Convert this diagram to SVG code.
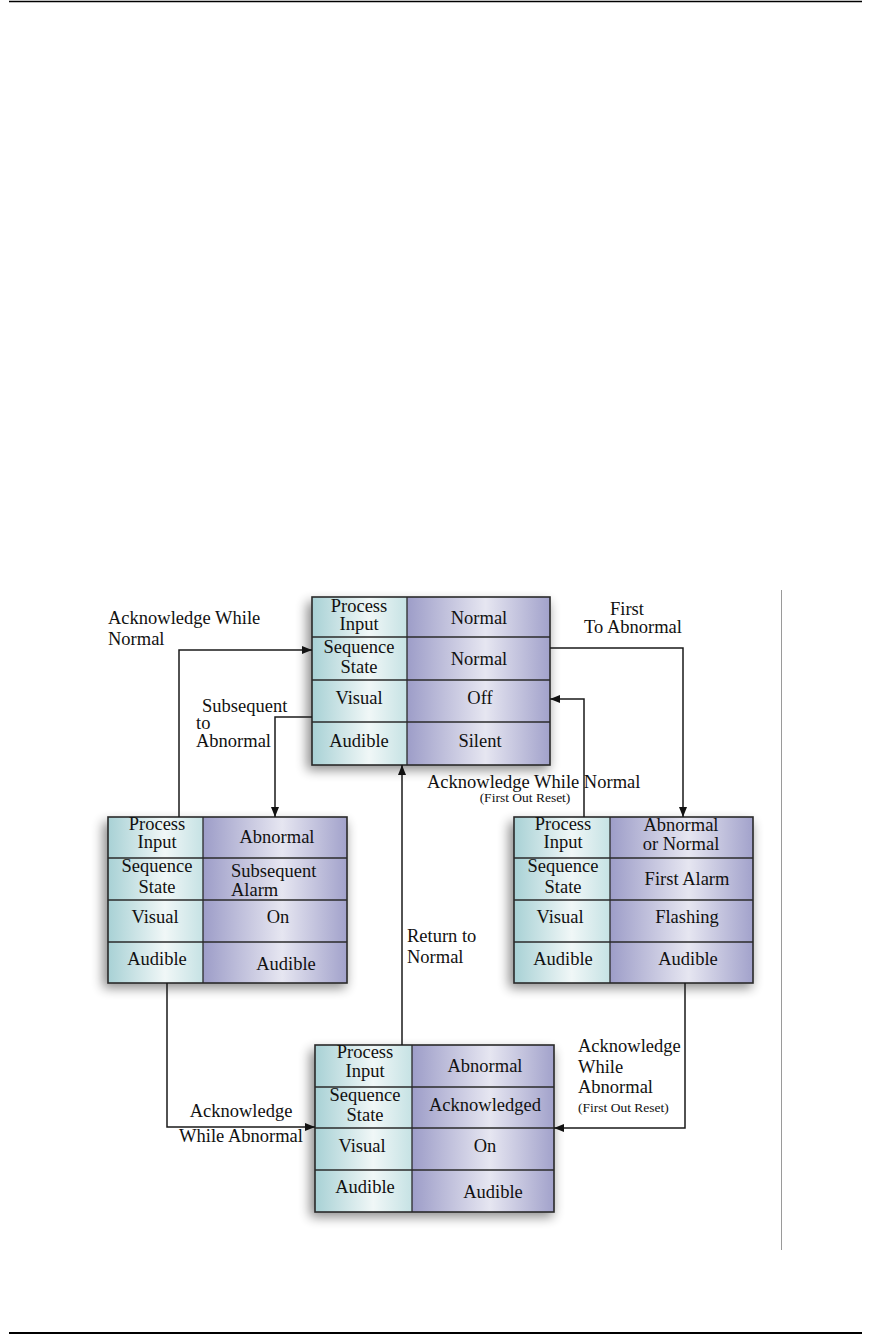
<svg xmlns="http://www.w3.org/2000/svg" width="870" height="1335" viewBox="0 0 870 1335">
<style>
  text { font-family: "Liberation Serif", "Times New Roman", serif; font-size: 18.5px; fill: #111; }
  .c { text-anchor: middle; }
  .sm { font-size: 13.5px; }
  .box { fill: none; stroke: #2a2a2a; stroke-width: 1.6; }
  .div { stroke: #2a2a2a; stroke-width: 1.3; }
  .conn { fill: none; stroke: #1a1a1a; stroke-width: 1.5; }
  .shadow { fill: #000; opacity: 0.45; }
</style>
<defs>
  <linearGradient id="gL" x1="0" y1="0" x2="1" y2="0">
    <stop offset="0" stop-color="#a8d1d5"/>
    <stop offset="0.6" stop-color="#f0f7f7"/>
    <stop offset="1" stop-color="#c6e2e4"/>
  </linearGradient>
  <linearGradient id="gR" x1="0" y1="0" x2="1" y2="0">
    <stop offset="0" stop-color="#9d9dc8"/>
    <stop offset="0.55" stop-color="#e6e6f1"/>
    <stop offset="1" stop-color="#a2a2cb"/>
  </linearGradient>
  <filter id="blur" x="-20%" y="-20%" width="140%" height="140%">
    <feGaussianBlur stdDeviation="6"/>
  </filter>
  <marker id="arr" viewBox="0 0 10 8" refX="10" refY="4" markerWidth="10" markerHeight="8" markerUnits="userSpaceOnUse" orient="auto">
    <path d="M0,0 L10,4 L0,8 z" fill="#111"/>
  </marker>
</defs>

<rect width="870" height="1335" fill="#fff"/>

<g id="page-rules">
  <line x1="9" y1="1.5" x2="862" y2="1.5" stroke="#000" stroke-width="1.3"/>
  <line x1="9" y1="1333" x2="862" y2="1333" stroke="#000" stroke-width="2.2"/>
  <line x1="781.5" y1="590" x2="781.5" y2="1250" stroke="#9a9a9a" stroke-width="1"/>
</g>

<g id="node-normal">
  <rect class="shadow" x="307" y="602" width="242" height="168" filter="url(#blur)"/>
  <rect x="312" y="597" width="95" height="168" fill="url(#gL)"/>
  <rect x="407" y="597" width="143" height="168" fill="url(#gR)"/>
  <line class="div" x1="312" y1="637" x2="550" y2="637"/>
  <line class="div" x1="312" y1="680" x2="550" y2="680"/>
  <line class="div" x1="312" y1="722" x2="550" y2="722"/>
  <line class="div" x1="407" y1="597" x2="407" y2="765"/>
  <rect class="box" x="312" y="597" width="238" height="168"/>
  <text class="c" x="359" y="612">Process</text>
  <text class="c" x="359" y="630">Input</text>
  <text class="c" x="479" y="624">Normal</text>
  <text class="c" x="359" y="653">Sequence</text>
  <text class="c" x="359" y="673">State</text>
  <text class="c" x="479" y="665">Normal</text>
  <text class="c" x="359" y="704">Visual</text>
  <text class="c" x="480" y="704">Off</text>
  <text class="c" x="359" y="747">Audible</text>
  <text class="c" x="480" y="747">Silent</text>
</g>

<g id="node-subsequent-alarm">
  <rect class="shadow" x="103" y="822" width="243" height="166" filter="url(#blur)"/>
  <rect x="108" y="817" width="95" height="166" fill="url(#gL)"/>
  <rect x="203" y="817" width="144" height="166" fill="url(#gR)"/>
  <line class="div" x1="108" y1="858" x2="347" y2="858"/>
  <line class="div" x1="108" y1="900" x2="347" y2="900"/>
  <line class="div" x1="108" y1="942" x2="347" y2="942"/>
  <line class="div" x1="203" y1="817" x2="203" y2="983"/>
  <rect class="box" x="108" y="817" width="239" height="166"/>
  <text class="c" x="157" y="830">Process</text>
  <text class="c" x="157" y="848">Input</text>
  <text class="c" x="277" y="843">Abnormal</text>
  <text class="c" x="157" y="872">Sequence</text>
  <text class="c" x="157" y="893">State</text>
  <text x="231" y="877">Subsequent</text>
  <text x="231" y="896">Alarm</text>
  <text class="c" x="155" y="923">Visual</text>
  <text class="c" x="278" y="923">On</text>
  <text class="c" x="157" y="965">Audible</text>
  <text class="c" x="286" y="970">Audible</text>
</g>

<g id="node-first-alarm">
  <rect class="shadow" x="509" y="822" width="243" height="166" filter="url(#blur)"/>
  <rect x="514" y="817" width="96" height="166" fill="url(#gL)"/>
  <rect x="610" y="817" width="143" height="166" fill="url(#gR)"/>
  <line class="div" x1="514" y1="858" x2="753" y2="858"/>
  <line class="div" x1="514" y1="900" x2="753" y2="900"/>
  <line class="div" x1="514" y1="942" x2="753" y2="942"/>
  <line class="div" x1="610" y1="817" x2="610" y2="983"/>
  <rect class="box" x="514" y="817" width="239" height="166"/>
  <text class="c" x="563" y="830">Process</text>
  <text class="c" x="563" y="848">Input</text>
  <text class="c" x="681" y="831">Abnormal</text>
  <text class="c" x="681" y="850">or Normal</text>
  <text class="c" x="563" y="872">Sequence</text>
  <text class="c" x="563" y="893">State</text>
  <text class="c" x="687" y="885">First Alarm</text>
  <text class="c" x="560" y="923">Visual</text>
  <text class="c" x="687" y="923">Flashing</text>
  <text class="c" x="563" y="965">Audible</text>
  <text class="c" x="688" y="965">Audible</text>
</g>

<g id="node-acknowledged">
  <rect class="shadow" x="310" y="1050" width="243" height="167" filter="url(#blur)"/>
  <rect x="315" y="1045" width="97" height="167" fill="url(#gL)"/>
  <rect x="412" y="1045" width="142" height="167" fill="url(#gR)"/>
  <line class="div" x1="315" y1="1087" x2="554" y2="1087"/>
  <line class="div" x1="315" y1="1128" x2="554" y2="1128"/>
  <line class="div" x1="315" y1="1170" x2="554" y2="1170"/>
  <line class="div" x1="412" y1="1045" x2="412" y2="1212"/>
  <rect class="box" x="315" y="1045" width="239" height="167"/>
  <text class="c" x="365" y="1058">Process</text>
  <text class="c" x="365" y="1077">Input</text>
  <text class="c" x="485" y="1072">Abnormal</text>
  <text class="c" x="365" y="1101">Sequence</text>
  <text class="c" x="365" y="1121">State</text>
  <text class="c" x="485" y="1111">Acknowledged</text>
  <text class="c" x="362" y="1152">Visual</text>
  <text class="c" x="485" y="1152">On</text>
  <text class="c" x="365" y="1193">Audible</text>
  <text class="c" x="493" y="1198">Audible</text>
</g>

<g id="connectors">
  <path class="conn" d="M179,817 V650 H312" marker-end="url(#arr)"/>
  <path class="conn" d="M312,717 H275 V817" marker-end="url(#arr)"/>
  <path class="conn" d="M550,648 H683 V817" marker-end="url(#arr)"/>
  <path class="conn" d="M584,817 V699 H550" marker-end="url(#arr)"/>
  <path class="conn" d="M402,1045 V765" marker-end="url(#arr)"/>
  <path class="conn" d="M167,983 V1127 H315" marker-end="url(#arr)"/>
  <path class="conn" d="M685,983 V1128 H554" marker-end="url(#arr)"/>
</g>

<g id="labels">
  <text x="108" y="624">Acknowledge While</text>
  <text x="108" y="645">Normal</text>
  <text x="202" y="712">Subsequent</text>
  <text x="196" y="729">to</text>
  <text x="196" y="747">Abnormal</text>
  <text class="c" x="627" y="615">First</text>
  <text class="c" x="633" y="633">To Abnormal</text>
  <text x="427" y="788">Acknowledge While Normal</text>
  <text class="c sm" x="525" y="802">(First Out Reset)</text>
  <text x="407" y="942">Return to</text>
  <text x="407" y="963">Normal</text>
  <text class="c" x="241" y="1117">Acknowledge</text>
  <text class="c" x="241" y="1142">While Abnormal</text>
  <text x="578" y="1052">Acknowledge</text>
  <text x="578" y="1073">While</text>
  <text x="578" y="1093">Abnormal</text>
  <text class="sm" x="578" y="1112">(First Out Reset)</text>
</g>
</svg>
